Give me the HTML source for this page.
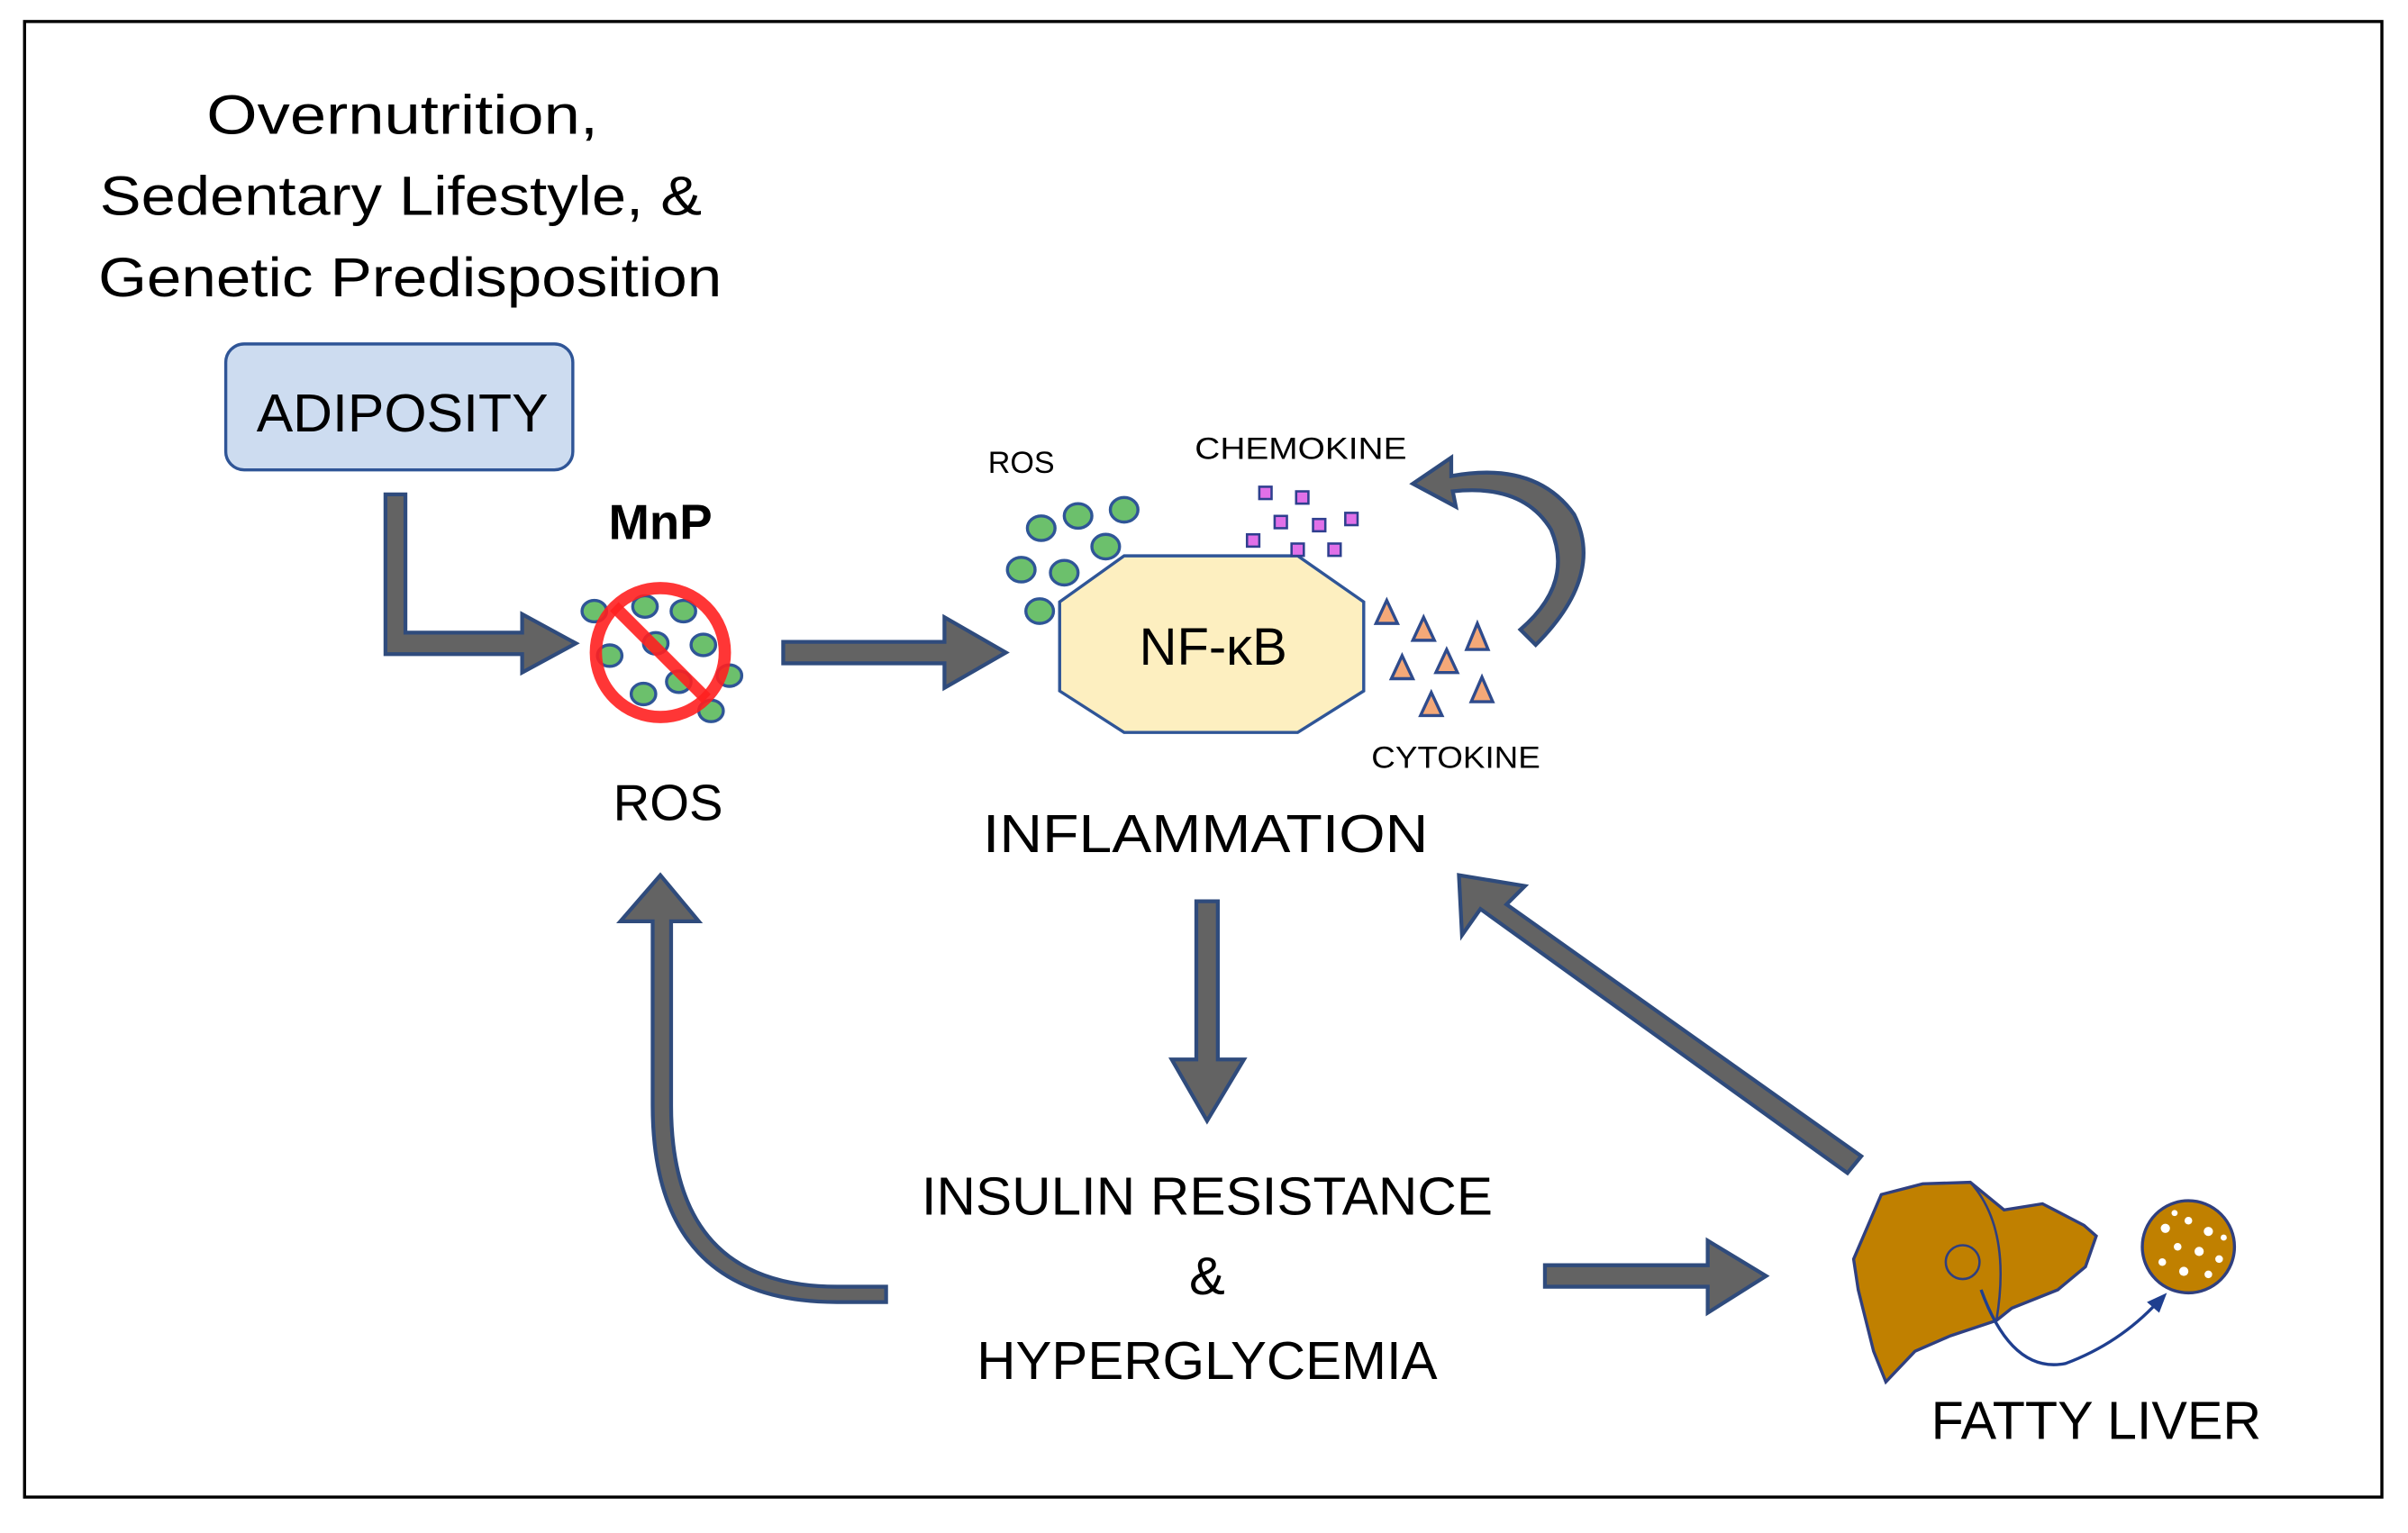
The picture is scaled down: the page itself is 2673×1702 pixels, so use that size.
<!DOCTYPE html>
<html><head><meta charset="utf-8"><style>
html,body{margin:0;padding:0;background:#fff;}
svg{display:block;}
text{font-family:"Liberation Sans","DejaVu Sans",sans-serif;fill:#000;}
</style></head><body>
<svg width="2673" height="1702" viewBox="0 0 1568 998.4" xmlns="http://www.w3.org/2000/svg">
<rect x="0" y="0" width="1568" height="998.4" fill="#fff"/>
<rect x="16" y="14" width="1535" height="961" fill="none" stroke="#000" stroke-width="2"/>

<g text-anchor="middle" font-size="36" lengthAdjust="spacingAndGlyphs">
<text x="262" y="87" textLength="255" lengthAdjust="spacingAndGlyphs">Overnutrition,</text>
<text x="261" y="140" textLength="392" lengthAdjust="spacingAndGlyphs">Sedentary Lifestyle, &amp;</text>
<text x="267" y="193" textLength="406" lengthAdjust="spacingAndGlyphs">Genetic Predisposition</text>
</g>
<rect x="147" y="224" width="226" height="82" rx="12" fill="#cddcf0" stroke="#2f5597" stroke-width="2"/>
<text x="262" y="281" text-anchor="middle" font-size="35" textLength="190" lengthAdjust="spacingAndGlyphs">ADIPOSITY</text>

<g fill="#636363" stroke="#2f4b7c" stroke-width="2.5" stroke-linejoin="miter">
<path d="M251,322 H264 V412 H340 V400 L375,419 L340,438 V426 H251 Z"/>
<path d="M510,418 H615 V402 L655,425 L615,448 V432 H510 Z"/>
<path d="M779,587 H793 V690 H810 L786,730 L763,690 H779 Z"/>
<path d="M1006,824 H1112 V808 L1150,831 L1112,855 V838 H1006 Z"/>
<path d="M1212,753 L1203,764 L964,592 L952,609 L950,570 L993,577 L981,589 Z"/>
<path d="M577,838 H545 Q437,838 437,720 V600 H455 L430,570 L404,600 H425 V720 Q425,848 545,848 H577 Z"/>
<path d="M1000,420 Q1045,375 1025,335 Q1000,300 945,310 L945,298 L920,315 L948,330 L946,320 Q992,315 1010,345 Q1025,380 990,410 Z"/>
</g>

<text x="430" y="351" text-anchor="middle" font-size="32" font-weight="bold">MnP</text>
<g fill="#6cc06c" stroke="#2f5597" stroke-width="2">
<ellipse cx="387" cy="398" rx="8" ry="7"/><ellipse cx="420" cy="395" rx="8" ry="7"/><ellipse cx="445" cy="398" rx="8" ry="7"/>
<ellipse cx="397" cy="427" rx="8" ry="7"/><ellipse cx="427" cy="419" rx="8" ry="7"/><ellipse cx="458" cy="420" rx="8" ry="7"/>
<ellipse cx="419" cy="452" rx="8" ry="7"/><ellipse cx="442" cy="444" rx="8" ry="7"/><ellipse cx="475" cy="440" rx="8" ry="7"/><ellipse cx="463" cy="463" rx="8" ry="7"/>
</g>
<circle cx="430" cy="425" r="42" fill="none" stroke="#ff2020" stroke-width="8" opacity="0.9"/>
<line x1="400" y1="395" x2="460" y2="455" stroke="#ff2020" stroke-width="8" opacity="0.9"/>
<text x="435" y="534" text-anchor="middle" font-size="33">ROS</text>

<polygon points="732,362 845,362 888,392 888,450 845,477 732,477 690,450 690,392" fill="#fdefc0" stroke="#2f5597" stroke-width="2"/>
<text x="790" y="433" text-anchor="middle" font-size="34">NF-κB</text>

<text x="665" y="308" text-anchor="middle" font-size="20">ROS</text>
<g fill="#6cc06c" stroke="#2f5597" stroke-width="2">
<ellipse cx="678" cy="344" rx="9" ry="8"/><ellipse cx="702" cy="336" rx="9" ry="8"/><ellipse cx="732" cy="332" rx="9" ry="8"/>
<ellipse cx="665" cy="371" rx="9" ry="8"/><ellipse cx="693" cy="373" rx="9" ry="8"/><ellipse cx="720" cy="356" rx="9" ry="8"/>
<ellipse cx="677" cy="398" rx="9" ry="8"/>
</g>
<text x="847" y="299" text-anchor="middle" font-size="20" textLength="138" lengthAdjust="spacingAndGlyphs">CHEMOKINE</text>
<g fill="#e070e8" stroke="#2f3f8f" stroke-width="1.5">
<rect x="820" y="317" width="8" height="8"/><rect x="844" y="320" width="8" height="8"/>
<rect x="830" y="336" width="8" height="8"/><rect x="855" y="338" width="8" height="8"/><rect x="876" y="334" width="8" height="8"/>
<rect x="812" y="348" width="8" height="8"/><rect x="841" y="354" width="8" height="8"/><rect x="865" y="354" width="8" height="8"/>
</g>
<g fill="#f4a878" stroke="#2f4b8c" stroke-width="2">
<polygon points="903,391 910,406 896,406"/><polygon points="927,402 934,417 920,417"/><polygon points="962,406 969,423 955,423"/>
<polygon points="913,427 920,442 906,442"/><polygon points="942,423 949,438 935,438"/><polygon points="965,441 972,457 958,457"/>
<polygon points="932,451 939,466 925,466"/>
</g>
<text x="948" y="500" text-anchor="middle" font-size="20" textLength="110" lengthAdjust="spacingAndGlyphs">CYTOKINE</text>
<text x="785" y="555" text-anchor="middle" font-size="35" textLength="290" lengthAdjust="spacingAndGlyphs">INFLAMMATION</text>

<g text-anchor="middle" font-size="35">
<text x="786" y="791" textLength="372" lengthAdjust="spacingAndGlyphs">INSULIN RESISTANCE</text>
<text x="786" y="843">&amp;</text>
<text x="786" y="898" textLength="300" lengthAdjust="spacingAndGlyphs">HYPERGLYCEMIA</text>
</g>

<path d="M1225,778 L1252,771 L1283,770 L1305,788 L1330,784 L1357,798 L1365,805 L1358,825 L1340,840 L1310,852 L1300,860 L1270,870 L1247,880 L1228,900 L1220,880 L1210,840 L1207,820 Z" fill="#c08000" stroke="#2f3f7f" stroke-width="2"/>
<path d="M1283,770 Q1310,800 1300,860" fill="none" stroke="#2f3f7f" stroke-width="1.5"/>
<circle cx="1278" cy="822" r="11" fill="none" stroke="#2f3f7f" stroke-width="1.5"/>
<path d="M1290,840 Q1310,895 1345,888 Q1380,875 1405,848" fill="none" stroke="#1f3f8f" stroke-width="2"/>
<polygon points="1411,842 1398,848 1406,855" fill="#1f3f8f"/>
<circle cx="1425" cy="812" r="30" fill="#c08000" stroke="#2f3f7f" stroke-width="2"/>
<g fill="#fff">
<circle cx="1410" cy="800" r="3"/><circle cx="1425" cy="795" r="2.5"/><circle cx="1438" cy="802" r="3"/><circle cx="1418" cy="812" r="2.5"/>
<circle cx="1432" cy="815" r="3"/><circle cx="1445" cy="820" r="2.5"/><circle cx="1408" cy="822" r="2.5"/><circle cx="1422" cy="828" r="3"/>
<circle cx="1438" cy="830" r="2.5"/><circle cx="1416" cy="790" r="2"/><circle cx="1448" cy="806" r="2"/>
</g>
<text x="1365" y="937" text-anchor="middle" font-size="35" textLength="215" lengthAdjust="spacingAndGlyphs">FATTY LIVER</text>
</svg>
</body></html>
